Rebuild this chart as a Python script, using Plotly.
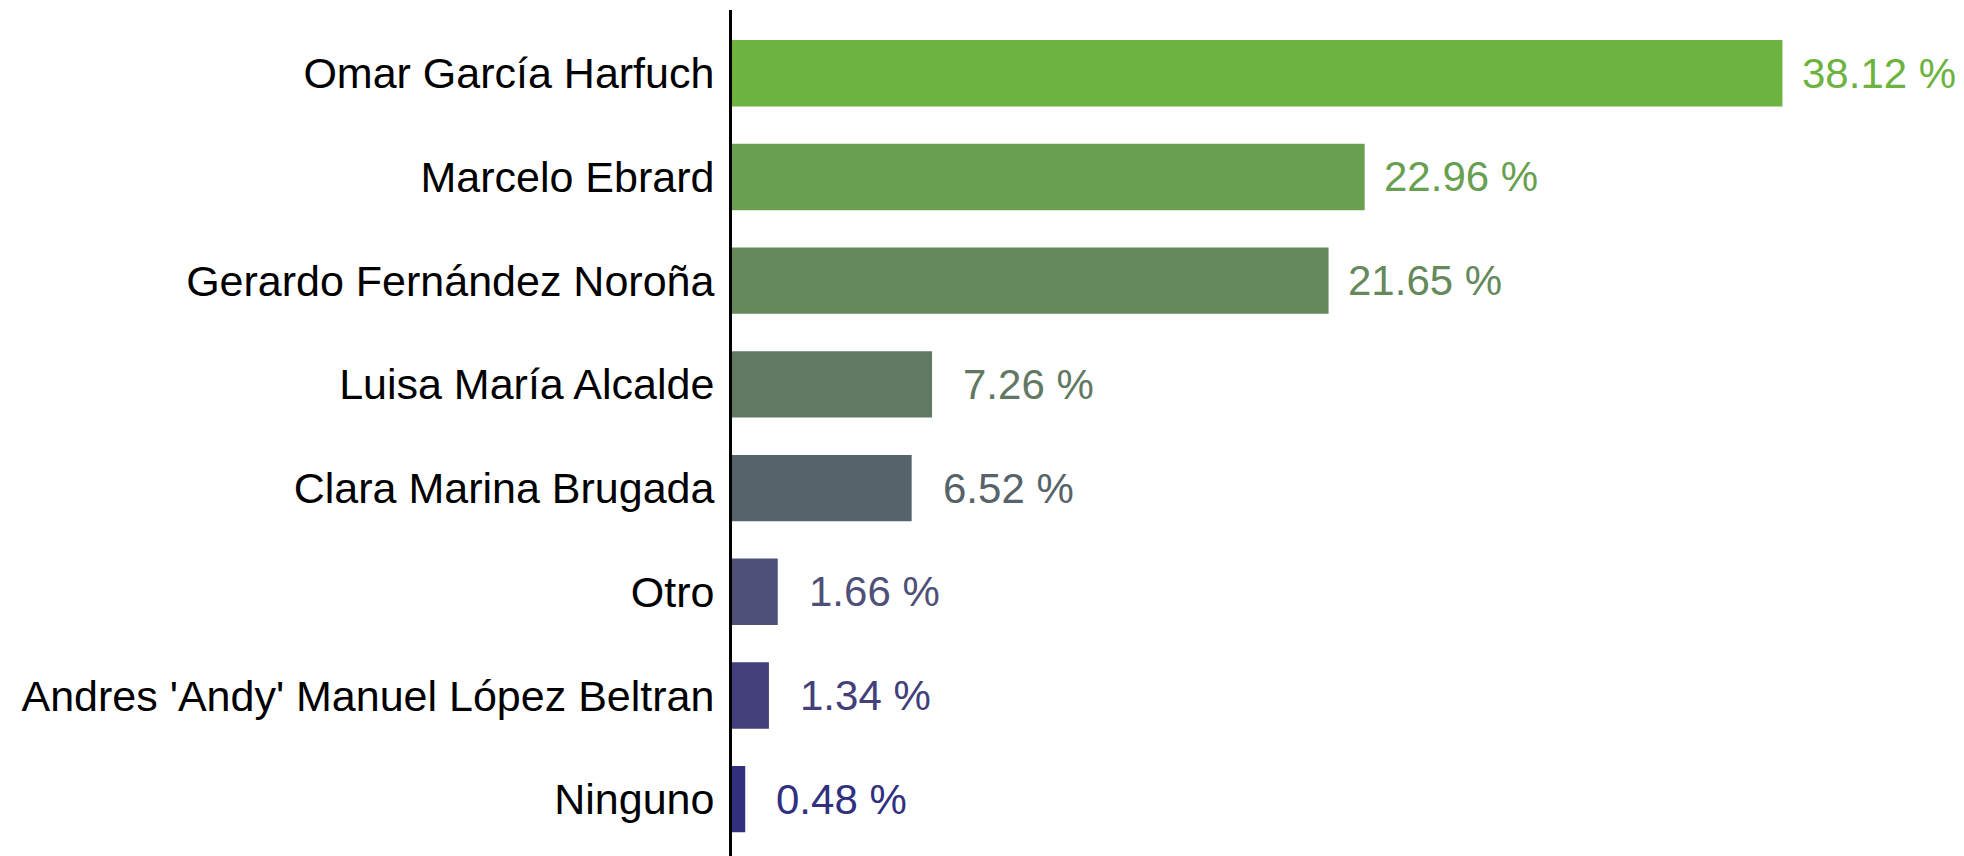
import plotly.graph_objects as go

# data
candidates = [
    "Omar García Harfuch",
    "Marcelo Ebrard",
    "Gerardo Fernández Noroña",
    "Luisa María Alcalde",
    "Clara Marina Brugada",
    "Otro",
    "Andres 'Andy' Manuel López Beltran",
    "Ninguno",
]
shares = [38.12, 22.96, 21.65, 7.26, 6.52, 1.66, 1.34, 0.48]
colors = ["#6DB33F", "#699F50", "#66895B", "#617962", "#56636A",
          "#4E5077", "#423F7B", "#30307F"]

FONT = "Liberation Sans, Arial, sans-serif"

fig = go.Figure(go.Bar(
    y=candidates,
    x=shares,
    orientation="h",
    marker=dict(color=colors, line=dict(width=0)),
    width=0.64,
    hoverinfo="skip",
))

# value labels, centred a fixed distance past the bar end
for name, v, c in zip(candidates, shares, colors):
    fig.add_annotation(
        x=v + 3.5, y=name,
        text=f"{v:.2f} %",
        showarrow=False,
        xanchor="center", yanchor="middle",
        font=dict(family=FONT, size=42, color=c),
    )

fig.update_layout(
    width=1964, height=856,
    paper_bgcolor="white",
    plot_bgcolor="white",
    margin=dict(l=724, r=0, t=2, b=0),
    showlegend=False,
    font=dict(family=FONT, size=43, color="black"),
    xaxis=dict(
        range=[0, 45],
        visible=False,
        showgrid=False,
        zeroline=False,
    ),
    yaxis=dict(
        range=[7.625, -0.61],
        showgrid=False,
        zeroline=False,
        showline=True,
        linecolor="black",
        linewidth=3,
        ticks="",
        ticklabelstandoff=6,
        tickfont=dict(family=FONT, size=43, color="black"),
    ),
)

fig.write_html("out.html")
